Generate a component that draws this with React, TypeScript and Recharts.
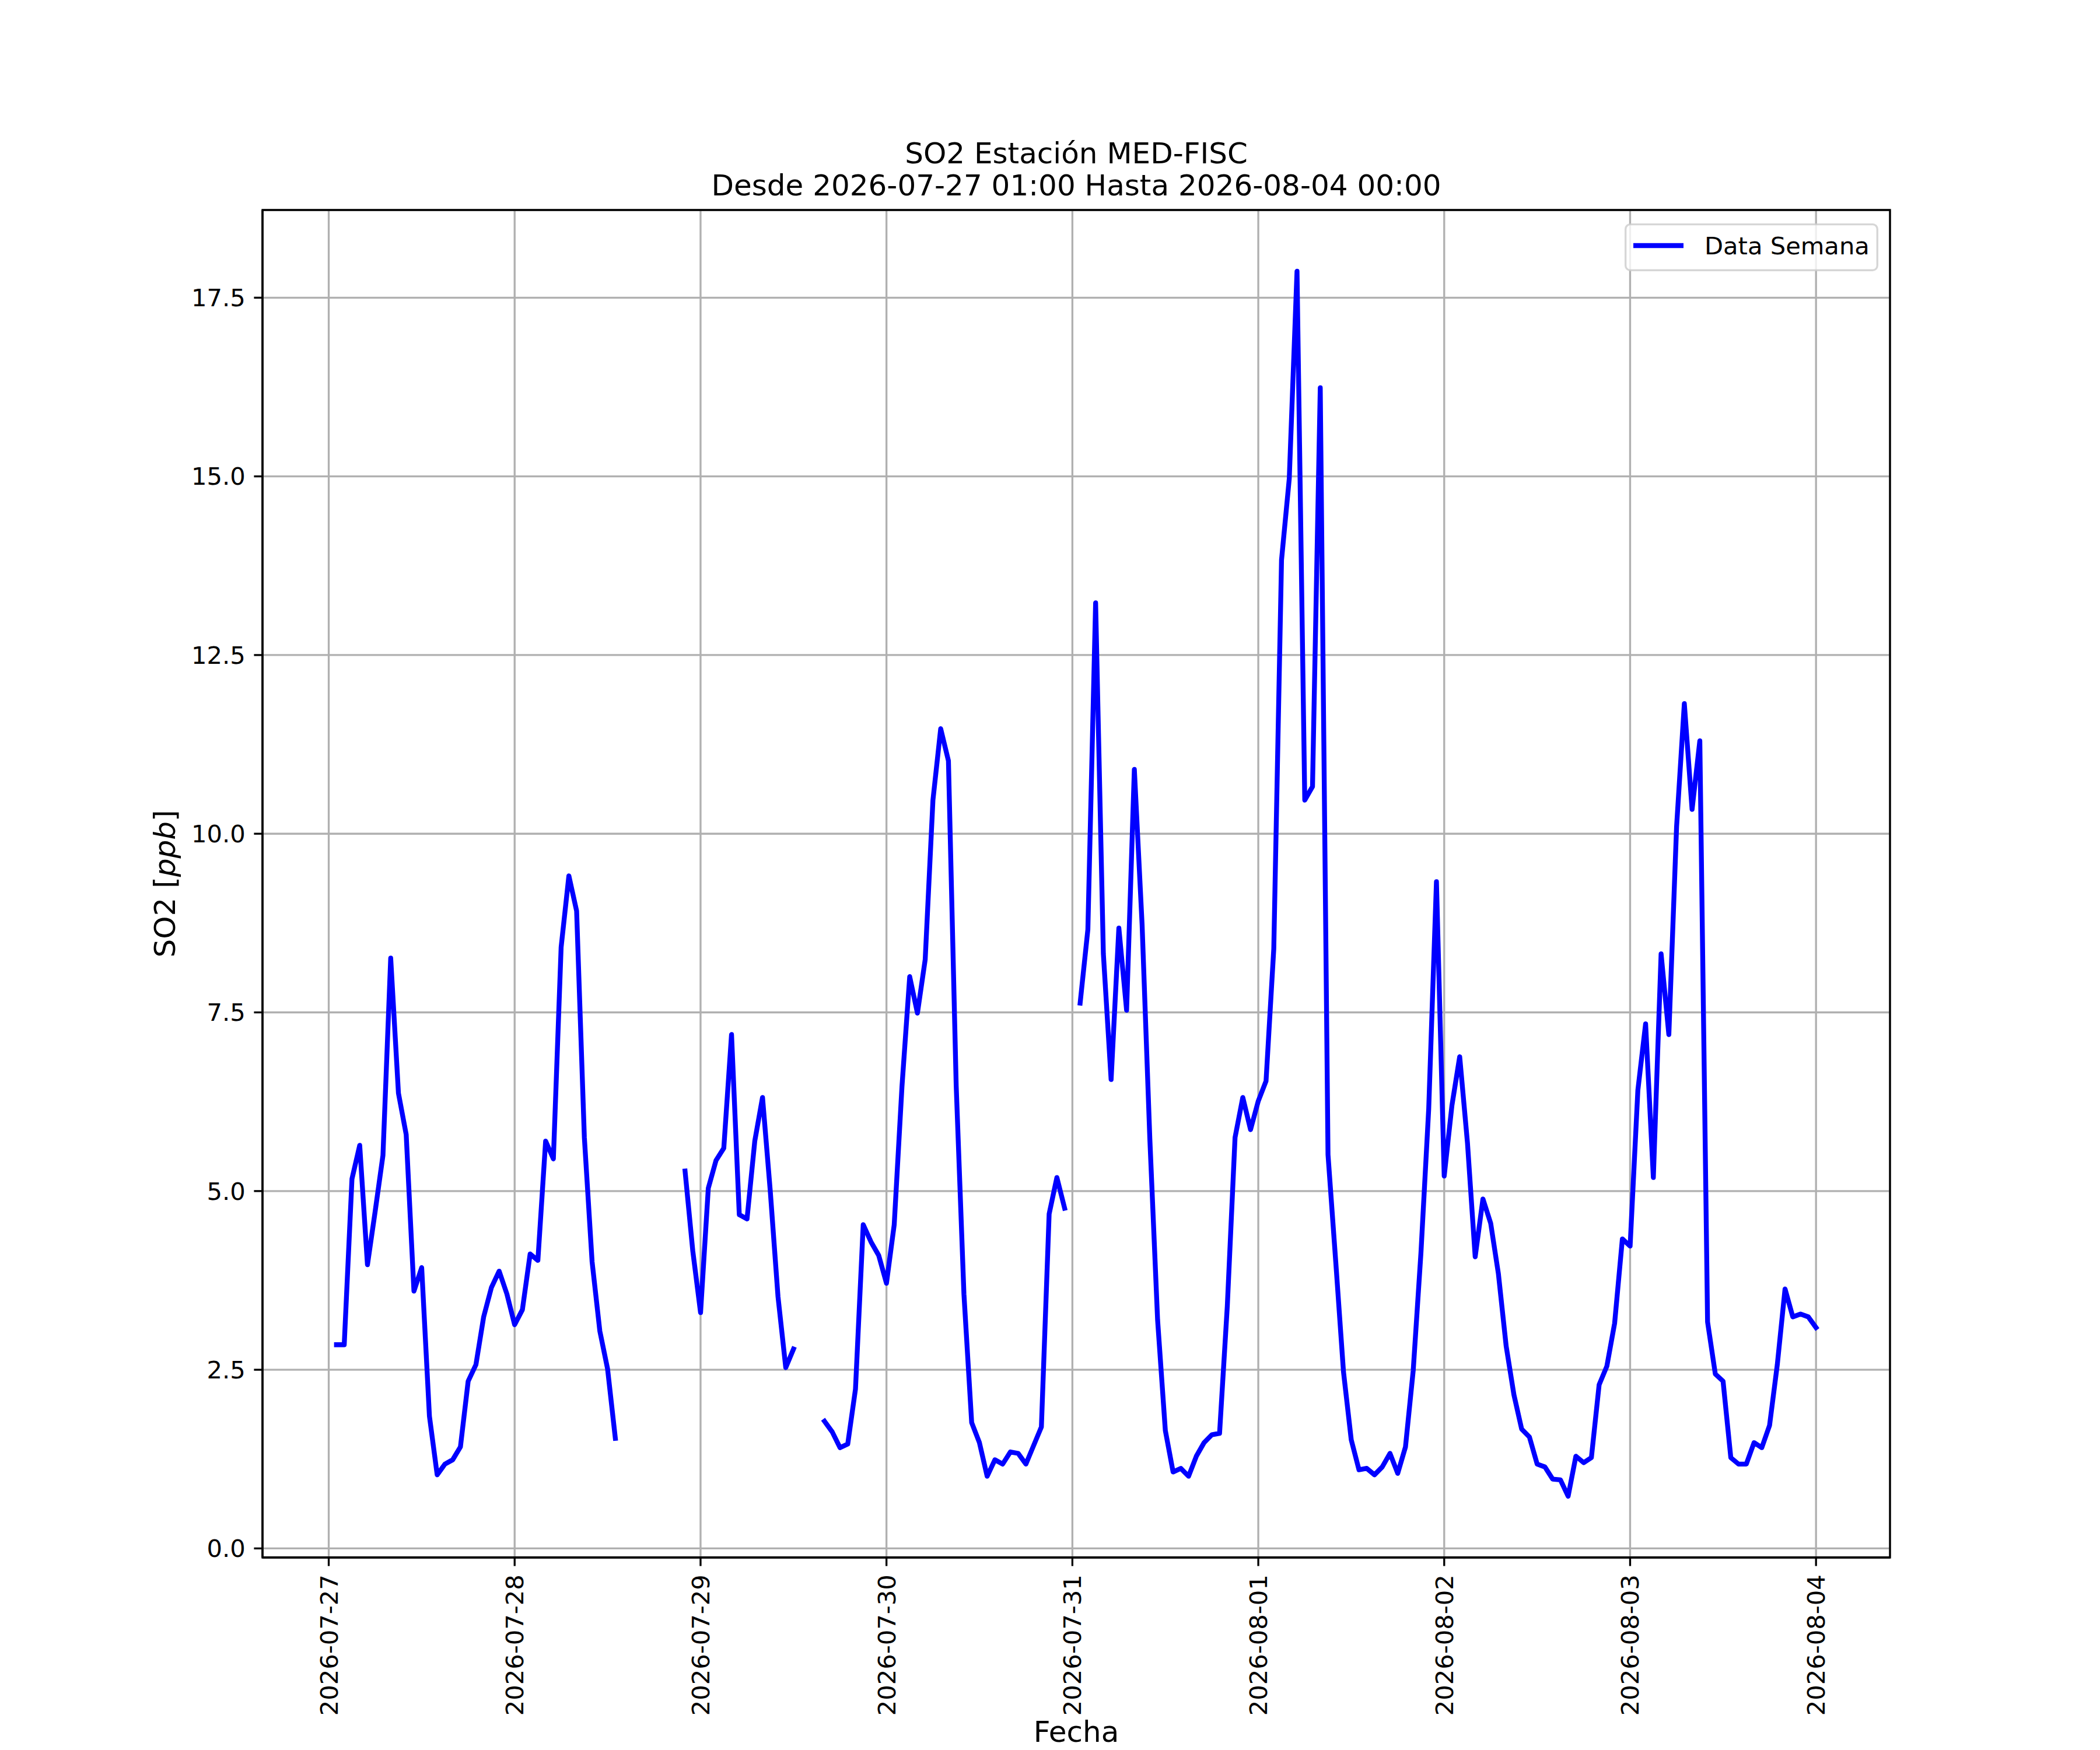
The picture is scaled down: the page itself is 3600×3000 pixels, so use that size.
import React from "react";
import {
  LineChart,
  Line,
  XAxis,
  YAxis,
  CartesianGrid,
  Legend,
  ReferenceArea,
} from "recharts";

// hourly SO2 (ppb), one array per day, hour 01:00 .. 24:00 (null = no data)
const jul27 = [2.85, 2.85, 5.17, 5.64, 3.97, 4.72, 5.5, 8.26, 6.37, 5.79, 3.6, 3.93, 1.85, 1.03, 1.18, 1.24, 1.42, 2.34, 2.57, 3.24, 3.65, 3.88, 3.56, 3.13];
const jul28 = [3.34, 4.12, 4.03, 5.7, 5.45, 8.41, 9.41, 8.92, 5.75, 4.01, 3.04, 2.51, 1.54, null, null, null, null, null, null, null, null, 5.28, 4.16, 3.3];
const jul29 = [5.04, 5.43, 5.6, 7.19, 4.67, 4.61, 5.7, 6.31, 5.0, 3.52, 2.53, 2.79, null, null, null, 1.78, 1.63, 1.41, 1.46, 2.23, 4.53, 4.29, 4.1, 3.71];
const jul30 = [4.53, 6.46, 8.0, 7.49, 8.24, 10.47, 11.47, 11.02, 6.48, 3.56, 1.76, 1.48, 1.01, 1.24, 1.18, 1.35, 1.33, 1.18, 1.44, 1.7, 4.68, 5.19, 4.76, null];
const jul31 = [7.63, 8.66, 13.23, 8.32, 6.56, 8.68, 7.53, 10.9, 8.73, 5.73, 3.2, 1.65, 1.07, 1.12, 1.01, 1.29, 1.48, 1.59, 1.61, 3.39, 5.75, 6.31, 5.86, 6.26];
const aug01 = [6.54, 8.39, 13.83, 14.97, 17.87, 10.47, 10.66, 16.24, 5.51, 4.01, 2.47, 1.52, 1.1, 1.12, 1.03, 1.14, 1.33, 1.05, 1.42, 2.49, 4.14, 6.15, 9.33, 5.21];
const aug02 = [6.2, 6.88, 5.68, 4.08, 4.89, 4.55, 3.84, 2.83, 2.15, 1.67, 1.56, 1.18, 1.14, 0.97, 0.96, 0.73, 1.29, 1.2, 1.27, 2.29, 2.55, 3.15, 4.33, 4.23];
const aug03 = [6.41, 7.34, 5.19, 8.32, 7.19, 10.1, 11.82, 10.34, 11.3, 3.17, 2.44, 2.34, 1.27, 1.18, 1.18, 1.48, 1.41, 1.72, 2.57, 3.63, 3.24, 3.28, 3.24, 3.09];

const days = [jul27, jul28, jul29, jul30, jul31, aug01, aug02, aug03];

// x = hours since 2026-07-27 00:00
const dayTicks = [0, 24, 48, 72, 96, 120, 144, 168, 192];
const dayLabels = [
  "2026-07-27",
  "2026-07-28",
  "2026-07-29",
  "2026-07-30",
  "2026-07-31",
  "2026-08-01",
  "2026-08-02",
  "2026-08-03",
  "2026-08-04",
];
const yTicks = [0, 2.5, 5, 7.5, 10, 12.5, 15, 17.5];

const data = days.flat().map((v, i) => ({ h: i + 1, so2: v }));

const FONT = "DejaVu Sans, Verdana, sans-serif";
const X_DOMAIN = [-8.55, 201.55];
const Y_DOMAIN = [-0.127, 18.727];

const XTick = (props: any) => {
  const { x, y, payload } = props;
  const idx = dayTicks.indexOf(payload.value);
  return (
    <text
      x={x}
      y={y}
      dy="0.36em"
      transform={`rotate(-90, ${x}, ${y})`}
      textAnchor="end"
      fontSize={41.67}
      fontFamily={FONT}
      fill="#000"
    >
      {dayLabels[idx]}
    </text>
  );
};

const LegendBox = () => (
  <svg width={435} height={82}>
    <rect
      x={1.67}
      y={1.67}
      width={431.6}
      height={78.6}
      rx={8}
      fill="#ffffff"
      fillOpacity={0.8}
      stroke="#cccccc"
      strokeOpacity={0.8}
      strokeWidth={3.33}
    />
    <line x1={15} x2={101} y1={38} y2={38} stroke="#0000ff" strokeWidth={8.33} />
    <text x={137} y={53} fontSize={41.67} fontFamily={FONT} fill="#000">
      Data Semana
    </text>
  </svg>
);

export default function App() {
  return (
    <div style={{ position: "relative", width: 3600, height: 3000, background: "#fff", fontFamily: FONT }}>
      <style>{"body{margin:0}"}</style>
      <LineChart
        width={3600}
        height={3000}
        data={data}
        margin={{ top: 360, right: 360, bottom: 0, left: 0 }}
      >
        <CartesianGrid stroke="#b0b0b0" strokeWidth={3.33} />
        <XAxis
          dataKey="h"
          type="number"
          domain={X_DOMAIN}
          allowDataOverflow
          ticks={dayTicks}
          interval={0}
          height={330}
          tickSize={14.6}
          tickMargin={14.6}
          tick={<XTick />}
          tickLine={{ stroke: "#000", strokeWidth: 3.33 }}
          axisLine={{ stroke: "#000", strokeWidth: 3.33 }}
        />
        <YAxis
          type="number"
          domain={Y_DOMAIN}
          allowDataOverflow
          ticks={yTicks}
          interval={0}
          width={450}
          tickSize={14.6}
          tickMargin={14.6}
          tickFormatter={(v: number) => v.toFixed(1)}
          tick={{ fontSize: 41.67, fontFamily: FONT, fill: "#000" }}
          tickLine={{ stroke: "#000", strokeWidth: 3.33 }}
          axisLine={{ stroke: "#000", strokeWidth: 3.33 }}
        />
        <Line
          type="linear"
          dataKey="so2"
          name="Data Semana"
          stroke="#0000ff"
          strokeWidth={8.33}
          strokeLinejoin="round"
          strokeLinecap="square"
          dot={false}
          activeDot={false}
          connectNulls={false}
          isAnimationActive={false}
        />
        <ReferenceArea
          x1={X_DOMAIN[0]}
          x2={X_DOMAIN[1]}
          y1={Y_DOMAIN[0]}
          y2={Y_DOMAIN[1]}
          fill="none"
          fillOpacity={0}
          stroke="#000"
          strokeWidth={3.33}
          ifOverflow="visible"
        />
        <Legend
          layout="horizontal"
          verticalAlign="middle"
          align="center"
          content={<LegendBox />}
          wrapperStyle={{ position: "absolute", top: 383, left: 2785, width: 435, height: 82 }}
        />
      </LineChart>
      <svg
        width={3600}
        height={3000}
        style={{ position: "absolute", left: 0, top: 0, pointerEvents: "none" }}
      >
        <text x={1845} y={280} textAnchor="middle" fontSize={50} fontFamily={FONT} fill="#000">
          SO2 Estación MED-FISC
        </text>
        <text x={1845} y={335} textAnchor="middle" fontSize={50} fontFamily={FONT} fill="#000">
          Desde 2026-07-27 01:00 Hasta 2026-08-04 00:00
        </text>
        <text x={1845} y={2986} textAnchor="middle" fontSize={50} fontFamily={FONT} fill="#000">
          Fecha
        </text>
        <text
          x={300}
          y={1515}
          transform="rotate(-90, 300, 1515)"
          textAnchor="middle"
          fontSize={50}
          fontFamily={FONT}
          fill="#000"
        >
          SO2 [<tspan fontStyle="italic">ppb</tspan>]
        </text>
      </svg>
    </div>
  );
}
